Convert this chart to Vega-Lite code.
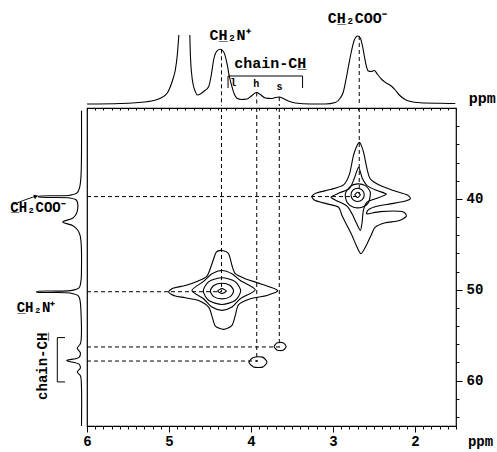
{
  "$schema": "https://vega.github.io/schema/vega-lite/v6.json",
  "background": "white",
  "padding": {"left": 6, "top": 8, "right": 2, "bottom": 2},
  "columns": 2,
  "spacing": {"row": 2, "column": 3},
  "bounds": "flush",
  "resolve": {"scale": {"x": "independent", "y": "independent"}},
  "datasets": {
    "top": [
      {"x": 6.0, "v": 0, "s": 1}, {"x": 5.594, "v": 0.5, "s": 1}, {"x": 5.268, "v": 2.3, "s": 1}, {"x": 5.106, "v": 5.7, "s": 1},
      {"x": 5.021, "v": 11, "s": 1}, {"x": 4.984, "v": 17.3, "s": 1}, {"x": 4.948, "v": 26, "s": 1}, {"x": 4.923, "v": 34, "s": 1},
      {"x": 4.899, "v": 49, "s": 1}, {"x": 4.88, "v": 69, "s": 1},
      {"x": 4.746, "v": 69, "s": 2}, {"x": 4.74, "v": 51, "s": 2}, {"x": 4.72, "v": 27.3, "s": 2}, {"x": 4.704, "v": 19, "s": 2},
      {"x": 4.679, "v": 12.3, "s": 2}, {"x": 4.655, "v": 9, "s": 2}, {"x": 4.618, "v": 10, "s": 2}, {"x": 4.57, "v": 13, "s": 2},
      {"x": 4.517, "v": 17.3, "s": 2}, {"x": 4.484, "v": 29, "s": 2}, {"x": 4.456, "v": 44, "s": 2}, {"x": 4.411, "v": 53.3, "s": 2},
      {"x": 4.374, "v": 54.7, "s": 2}, {"x": 4.334, "v": 52.3, "s": 2}, {"x": 4.293, "v": 40.7, "s": 2}, {"x": 4.265, "v": 28, "s": 2},
      {"x": 4.232, "v": 17.3, "s": 2}, {"x": 4.204, "v": 10, "s": 2}, {"x": 4.171, "v": 5.7, "s": 2}, {"x": 4.118, "v": 4.5, "s": 2},
      {"x": 4.049, "v": 5, "s": 2}, {"x": 3.996, "v": 8, "s": 2}, {"x": 3.935, "v": 11.5, "s": 2}, {"x": 3.887, "v": 9.5, "s": 2},
      {"x": 3.826, "v": 6, "s": 2}, {"x": 3.752, "v": 5.5, "s": 2}, {"x": 3.704, "v": 6.5, "s": 2}, {"x": 3.655, "v": 7, "s": 2},
      {"x": 3.606, "v": 5.5, "s": 2}, {"x": 3.545, "v": 3, "s": 2}, {"x": 3.46, "v": 1, "s": 2}, {"x": 3.277, "v": 0, "s": 2},
      {"x": 3.094, "v": 0, "s": 2}, {"x": 2.972, "v": 1.5, "s": 2}, {"x": 2.911, "v": 6, "s": 2}, {"x": 2.874, "v": 12, "s": 2},
      {"x": 2.838, "v": 26, "s": 2}, {"x": 2.813, "v": 37, "s": 2}, {"x": 2.777, "v": 52, "s": 2}, {"x": 2.74, "v": 64, "s": 2},
      {"x": 2.7, "v": 68, "s": 2}, {"x": 2.667, "v": 66, "s": 2}, {"x": 2.643, "v": 59, "s": 2}, {"x": 2.618, "v": 48, "s": 2},
      {"x": 2.594, "v": 38, "s": 2}, {"x": 2.57, "v": 33, "s": 2}, {"x": 2.533, "v": 32.5, "s": 2}, {"x": 2.496, "v": 33.5, "s": 2},
      {"x": 2.46, "v": 30, "s": 2}, {"x": 2.411, "v": 25, "s": 2}, {"x": 2.35, "v": 21, "s": 2}, {"x": 2.289, "v": 18, "s": 2},
      {"x": 2.24, "v": 14, "s": 2}, {"x": 2.191, "v": 9, "s": 2}, {"x": 2.13, "v": 5, "s": 2}, {"x": 2.057, "v": 2.5, "s": 2},
      {"x": 1.935, "v": 1.2, "s": 2}, {"x": 1.691, "v": 0.7, "s": 2}, {"x": 1.509, "v": 0.5, "s": 2}
    ],
    "topDash": [
      {"x": 4.36, "v": 54.7, "v2": -2}, {"x": 2.68, "v": 68, "v2": -2},
      {"x": 3.93, "v": 11.5, "v2": -2}, {"x": 3.655, "v": 7, "v2": -2}
    ],
    "topBracket": [
      {"x": 4.28, "v": 16, "i": 0}, {"x": 4.28, "v": 28, "i": 1}, {"x": 3.371, "v": 28, "i": 2}, {"x": 3.371, "v": 16, "i": 3}
    ],
    "topText": [
      {"x": 4.255, "v": 69, "t": "CH\u0332\u2082N\u207A"},
      {"x": 2.704, "v": 86, "t": "CH\u0332\u2082COO\u207B"},
      {"x": 3.765, "v": 41, "t": "chain-CH\u0332"},
      {"x": 1.18, "v": 6.5, "t": "ppm"}
    ],
    "topSmall": [
      {"x": 4.215, "v": 21, "t": "l"}, {"x": 3.935, "v": 20, "t": "h"}, {"x": 3.651, "v": 17, "t": "s"}
    ],
    "left": [
      {"v": 0.5, "y": 30.3}, {"v": 0.6, "y": 36.0}, {"v": 1.2, "y": 37.8}, {"v": 2.5, "y": 38.8}, {"v": 5, "y": 39.35},
      {"v": 12, "y": 39.6}, {"v": 43.7, "y": 39.72}, {"v": 43.7, "y": 39.78}, {"v": 12, "y": 39.9}, {"v": 6, "y": 40.1},
      {"v": 4.5, "y": 40.4}, {"v": 4.2, "y": 41.0}, {"v": 5.5, "y": 41.6}, {"v": 9, "y": 42.1}, {"v": 19.3, "y": 42.55},
      {"v": 9, "y": 42.95}, {"v": 4.5, "y": 43.4}, {"v": 2, "y": 44.0}, {"v": 0.8, "y": 45.0}, {"v": 0.5, "y": 47.5},
      {"v": 1, "y": 49.0}, {"v": 3, "y": 49.8}, {"v": 12, "y": 50.1}, {"v": 45.3, "y": 50.2}, {"v": 45.3, "y": 50.26},
      {"v": 12, "y": 50.36}, {"v": 3.5, "y": 50.7}, {"v": 1.8, "y": 51.3}, {"v": 1, "y": 52.5}, {"v": 0.6, "y": 55.0},
      {"v": 1.5, "y": 55.9}, {"v": 4.7, "y": 56.45}, {"v": 1.6, "y": 56.95}, {"v": 3, "y": 57.45}, {"v": 15.3, "y": 57.8},
      {"v": 3, "y": 58.2}, {"v": 1.6, "y": 58.6}, {"v": 4.7, "y": 59.05}, {"v": 1.5, "y": 59.5}, {"v": 0.6, "y": 60.5},
      {"v": 0.5, "y": 65.0}
    ],
    "leftBracket": [
      {"v": 17, "y": 55.27, "i": 0}, {"v": 24.7, "y": 55.27, "i": 1}, {"v": 24.7, "y": 60.15, "i": 2}, {"v": 17, "y": 60.15, "i": 3}
    ],
    "leftArrow": [
      {"v": 68, "y": 40.6, "i": 0}, {"v": 58, "y": 40.15, "i": 1}, {"v": 47, "y": 39.74, "i": 2}
    ],
    "leftHead": [{"v": 46, "y": 39.72}],
    "leftText": [
      {"v": 44, "y": 40.96, "t": "C\u0332H\u2082COO\u207B", "a": 0},
      {"v": 46, "y": 52.05, "t": "C\u0332H\u2082N\u207A", "a": 0},
      {"v": 39, "y": 58.43, "t": "chain-CH\u0332", "a": 270}
    ],
    "contours": [
      {"c": "p1o", "i": 0, "x": 4.354, "y": 45.68}, {"c": "p1o", "i": 1, "x": 4.273, "y": 46.04}, {"c": "p1o", "i": 2, "x": 4.232, "y": 47.33},
      {"c": "p1o", "i": 3, "x": 4.191, "y": 48.24}, {"c": "p1o", "i": 4, "x": 4.07, "y": 48.79}, {"c": "p1o", "i": 5, "x": 3.887, "y": 49.34},
      {"c": "p1o", "i": 6, "x": 3.676, "y": 50.08}, {"c": "p1o", "i": 7, "x": 3.805, "y": 50.63}, {"c": "p1o", "i": 8, "x": 4.009, "y": 50.99},
      {"c": "p1o", "i": 9, "x": 4.151, "y": 51.65}, {"c": "p1o", "i": 10, "x": 4.191, "y": 52.82}, {"c": "p1o", "i": 11, "x": 4.232, "y": 53.92},
      {"c": "p1o", "i": 12, "x": 4.334, "y": 54.36}, {"c": "p1o", "i": 13, "x": 4.435, "y": 54.0}, {"c": "p1o", "i": 14, "x": 4.476, "y": 52.9},
      {"c": "p1o", "i": 15, "x": 4.517, "y": 51.91}, {"c": "p1o", "i": 16, "x": 4.639, "y": 51.18}, {"c": "p1o", "i": 17, "x": 4.801, "y": 50.88},
      {"c": "p1o", "i": 18, "x": 4.923, "y": 50.7}, {"c": "p1o", "i": 19, "x": 5.005, "y": 50.26}, {"c": "p1o", "i": 20, "x": 4.944, "y": 49.82},
      {"c": "p1o", "i": 21, "x": 4.801, "y": 49.53}, {"c": "p1o", "i": 22, "x": 4.659, "y": 49.09}, {"c": "p1o", "i": 23, "x": 4.537, "y": 48.51},
      {"c": "p1o", "i": 24, "x": 4.476, "y": 47.14}, {"c": "p1o", "i": 25, "x": 4.423, "y": 45.87},
      {"c": "p1d", "i": 0, "x": 4.354, "y": 47.88}, {"c": "p1d", "i": 1, "x": 4.232, "y": 48.24}, {"c": "p1d", "i": 2, "x": 4.13, "y": 48.98},
      {"c": "p1d", "i": 3, "x": 3.948, "y": 50.0}, {"c": "p1d", "i": 4, "x": 4.13, "y": 50.99}, {"c": "p1d", "i": 5, "x": 4.232, "y": 51.91},
      {"c": "p1d", "i": 6, "x": 4.354, "y": 52.27}, {"c": "p1d", "i": 7, "x": 4.476, "y": 51.91}, {"c": "p1d", "i": 8, "x": 4.578, "y": 50.99},
      {"c": "p1d", "i": 9, "x": 4.72, "y": 50.08}, {"c": "p1d", "i": 10, "x": 4.578, "y": 49.09}, {"c": "p1d", "i": 11, "x": 4.476, "y": 48.24},
      {"c": "p1c", "i": 0, "x": 4.582, "y": 50.15}, {"c": "p1c", "i": 1, "x": 4.515, "y": 49.11}, {"c": "p1c", "i": 2, "x": 4.354, "y": 48.68},
      {"c": "p1c", "i": 3, "x": 4.193, "y": 49.11}, {"c": "p1c", "i": 4, "x": 4.126, "y": 50.15}, {"c": "p1c", "i": 5, "x": 4.193, "y": 51.19},
      {"c": "p1c", "i": 6, "x": 4.354, "y": 51.62}, {"c": "p1c", "i": 7, "x": 4.515, "y": 51.19},
      {"c": "p1b", "i": 0, "x": 4.496, "y": 50.15}, {"c": "p1b", "i": 1, "x": 4.454, "y": 49.54}, {"c": "p1b", "i": 2, "x": 4.354, "y": 49.29},
      {"c": "p1b", "i": 3, "x": 4.254, "y": 49.54}, {"c": "p1b", "i": 4, "x": 4.212, "y": 50.15}, {"c": "p1b", "i": 5, "x": 4.254, "y": 50.76},
      {"c": "p1b", "i": 6, "x": 4.354, "y": 51.01}, {"c": "p1b", "i": 7, "x": 4.454, "y": 50.76},
      {"c": "p1a", "i": 0, "x": 4.407, "y": 50.15}, {"c": "p1a", "i": 1, "x": 4.354, "y": 49.88}, {"c": "p1a", "i": 2, "x": 4.301, "y": 50.15},
      {"c": "p1a", "i": 3, "x": 4.354, "y": 50.42},
      {"c": "p2o", "i": 0, "x": 2.676, "y": 33.78}, {"c": "p2o", "i": 1, "x": 2.627, "y": 34.88}, {"c": "p2o", "i": 2, "x": 2.585, "y": 36.7},
      {"c": "p2o", "i": 3, "x": 2.545, "y": 37.8}, {"c": "p2o", "i": 4, "x": 2.423, "y": 38.54}, {"c": "p2o", "i": 5, "x": 2.261, "y": 39.09},
      {"c": "p2o", "i": 6, "x": 2.098, "y": 39.56}, {"c": "p2o", "i": 7, "x": 2.057, "y": 40.0}, {"c": "p2o", "i": 8, "x": 2.139, "y": 40.3},
      {"c": "p2o", "i": 9, "x": 2.301, "y": 40.55}, {"c": "p2o", "i": 10, "x": 2.463, "y": 40.81}, {"c": "p2o", "i": 11, "x": 2.566, "y": 41.18},
      {"c": "p2o", "i": 12, "x": 2.585, "y": 41.65}, {"c": "p2o", "i": 13, "x": 2.423, "y": 41.4}, {"c": "p2o", "i": 14, "x": 2.159, "y": 41.4},
      {"c": "p2o", "i": 15, "x": 2.106, "y": 41.91}, {"c": "p2o", "i": 16, "x": 2.2, "y": 42.42}, {"c": "p2o", "i": 17, "x": 2.362, "y": 42.64},
      {"c": "p2o", "i": 18, "x": 2.484, "y": 43.12}, {"c": "p2o", "i": 19, "x": 2.537, "y": 44.03}, {"c": "p2o", "i": 20, "x": 2.594, "y": 45.13},
      {"c": "p2o", "i": 21, "x": 2.659, "y": 46.04}, {"c": "p2o", "i": 22, "x": 2.716, "y": 45.13}, {"c": "p2o", "i": 23, "x": 2.768, "y": 44.03},
      {"c": "p2o", "i": 24, "x": 2.829, "y": 42.93}, {"c": "p2o", "i": 25, "x": 2.89, "y": 41.84}, {"c": "p2o", "i": 26, "x": 2.932, "y": 40.92},
      {"c": "p2o", "i": 27, "x": 3.073, "y": 40.55}, {"c": "p2o", "i": 28, "x": 3.216, "y": 40.19}, {"c": "p2o", "i": 29, "x": 3.256, "y": 39.75},
      {"c": "p2o", "i": 30, "x": 3.195, "y": 39.34}, {"c": "p2o", "i": 31, "x": 3.033, "y": 38.98}, {"c": "p2o", "i": 32, "x": 2.871, "y": 38.46},
      {"c": "p2o", "i": 33, "x": 2.798, "y": 37.25}, {"c": "p2o", "i": 34, "x": 2.756, "y": 35.43}, {"c": "p2o", "i": 35, "x": 2.716, "y": 34.33},
      {"c": "p2d", "i": 0, "x": 2.688, "y": 36.53}, {"c": "p2d", "i": 1, "x": 2.643, "y": 37.74}, {"c": "p2d", "i": 2, "x": 2.585, "y": 38.54},
      {"c": "p2d", "i": 3, "x": 2.463, "y": 39.09}, {"c": "p2d", "i": 4, "x": 2.35, "y": 39.49}, {"c": "p2d", "i": 5, "x": 2.484, "y": 40.0},
      {"c": "p2d", "i": 6, "x": 2.585, "y": 40.37}, {"c": "p2d", "i": 7, "x": 2.63, "y": 41.29}, {"c": "p2d", "i": 8, "x": 2.645, "y": 42.57},
      {"c": "p2d", "i": 9, "x": 2.667, "y": 43.48}, {"c": "p2d", "i": 10, "x": 2.716, "y": 42.64}, {"c": "p2d", "i": 11, "x": 2.768, "y": 41.65},
      {"c": "p2d", "i": 12, "x": 2.829, "y": 40.81}, {"c": "p2d", "i": 13, "x": 2.932, "y": 40.3}, {"c": "p2d", "i": 14, "x": 3.024, "y": 39.82},
      {"c": "p2d", "i": 15, "x": 2.92, "y": 39.34}, {"c": "p2d", "i": 16, "x": 2.798, "y": 38.84}, {"c": "p2d", "i": 17, "x": 2.74, "y": 37.74},
      {"c": "p2c", "i": 0, "x": 2.7, "y": 38.35}, {"c": "p2c", "i": 1, "x": 2.606, "y": 38.54}, {"c": "p2c", "i": 2, "x": 2.545, "y": 39.27},
      {"c": "p2c", "i": 3, "x": 2.566, "y": 40.37}, {"c": "p2c", "i": 4, "x": 2.646, "y": 40.92}, {"c": "p2c", "i": 5, "x": 2.749, "y": 40.92},
      {"c": "p2c", "i": 6, "x": 2.829, "y": 40.37}, {"c": "p2c", "i": 7, "x": 2.85, "y": 39.45}, {"c": "p2c", "i": 8, "x": 2.789, "y": 38.62},
      {"c": "p2b", "i": 0, "x": 2.781, "y": 39.56}, {"c": "p2b", "i": 1, "x": 2.757, "y": 39.04}, {"c": "p2b", "i": 2, "x": 2.7, "y": 38.83},
      {"c": "p2b", "i": 3, "x": 2.643, "y": 39.04}, {"c": "p2b", "i": 4, "x": 2.619, "y": 39.56}, {"c": "p2b", "i": 5, "x": 2.643, "y": 40.08},
      {"c": "p2b", "i": 6, "x": 2.7, "y": 40.29}, {"c": "p2b", "i": 7, "x": 2.757, "y": 40.08},
      {"c": "p2a", "i": 0, "x": 2.733, "y": 39.56}, {"c": "p2a", "i": 1, "x": 2.7, "y": 39.27}, {"c": "p2a", "i": 2, "x": 2.667, "y": 39.56},
      {"c": "p2a", "i": 3, "x": 2.7, "y": 39.85},
      {"c": "ps", "i": 0, "x": 3.718, "y": 56.25}, {"c": "ps", "i": 1, "x": 3.68, "y": 55.85}, {"c": "ps", "i": 2, "x": 3.61, "y": 55.83},
      {"c": "ps", "i": 3, "x": 3.572, "y": 56.25}, {"c": "ps", "i": 4, "x": 3.61, "y": 56.67}, {"c": "ps", "i": 5, "x": 3.68, "y": 56.65},
      {"c": "ph", "i": 0, "x": 4.025, "y": 57.97}, {"c": "ph", "i": 1, "x": 3.97, "y": 57.45}, {"c": "ph", "i": 2, "x": 3.86, "y": 57.42},
      {"c": "ph", "i": 3, "x": 3.805, "y": 57.97}, {"c": "ph", "i": 4, "x": 3.86, "y": 58.52}, {"c": "ph", "i": 5, "x": 3.97, "y": 58.5}
    ],
    "dashes": [
      {"x": 4.36, "x2": 4.36, "y": 30, "y2": 50.15},
      {"x": 2.68, "x2": 2.68, "y": 30, "y2": 39.5},
      {"x": 3.93, "x2": 3.93, "y": 30, "y2": 57.95},
      {"x": 3.655, "x2": 3.655, "y": 30, "y2": 56.25},
      {"x": 6, "x2": 2.7, "y": 39.75, "y2": 39.75},
      {"x": 6, "x2": 4.354, "y": 50.22, "y2": 50.22},
      {"x": 6, "x2": 3.645, "y": 56.3, "y2": 56.3},
      {"x": 6, "x2": 3.915, "y": 57.85, "y2": 57.85}
    ]
  },
  "concat": [
    {
      "width": 78, "height": 98,
      "data": {"values": [{"a": 1}]},
      "mark": {"type": "text"},
      "encoding": {"text": {"value": ""}}
    },
    {
      "width": 369, "height": 98,
      "layer": [
        {
          "data": {"name": "top"},
          "mark": {"type": "line", "interpolate": "monotone", "color": "black", "strokeWidth": 1.1},
          "encoding": {
            "x": {"field": "x", "type": "quantitative", "scale": {"domain": [6, 1.5], "nice": false, "zero": false}, "axis": null},
            "y": {"field": "v", "type": "quantitative", "scale": {"domain": [-2, 96], "nice": false, "zero": false}, "axis": null},
            "detail": {"field": "s"}
          }
        },
        {
          "data": {"name": "topDash"},
          "mark": {"type": "rule", "color": "black", "strokeWidth": 1, "strokeDash": [4, 3]},
          "encoding": {
            "x": {"field": "x", "type": "quantitative"},
            "y": {"field": "v", "type": "quantitative"},
            "y2": {"field": "v2"}
          }
        },
        {
          "data": {"name": "topBracket"},
          "mark": {"type": "line", "color": "black", "strokeWidth": 1},
          "encoding": {
            "x": {"field": "x", "type": "quantitative"},
            "y": {"field": "v", "type": "quantitative"},
            "order": {"field": "i"}
          }
        },
        {
          "data": {"name": "topText"},
          "mark": {"type": "text", "font": "Liberation Mono", "fontWeight": "bold", "fontSize": 15, "color": "black", "align": "center", "baseline": "middle"},
          "encoding": {
            "x": {"field": "x", "type": "quantitative"},
            "y": {"field": "v", "type": "quantitative"},
            "text": {"field": "t"}
          }
        },
        {
          "data": {"name": "topSmall"},
          "mark": {"type": "text", "font": "Liberation Mono", "fontWeight": "bold", "fontSize": 10, "color": "black", "align": "center", "baseline": "middle"},
          "encoding": {
            "x": {"field": "x", "type": "quantitative"},
            "y": {"field": "v", "type": "quantitative"},
            "text": {"field": "t"}
          }
        }
      ]
    },
    {
      "width": 78, "height": 318,
      "layer": [
        {
          "data": {"name": "left"},
          "mark": {"type": "line", "interpolate": "catmull-rom", "color": "black", "strokeWidth": 1.1},
          "encoding": {
            "x": {"field": "v", "type": "quantitative", "scale": {"domain": [76, -2], "nice": false, "zero": false}, "axis": null},
            "y": {"field": "y", "type": "quantitative", "scale": {"domain": [30, 65], "reverse": true, "nice": false, "zero": false}, "axis": null},
            "order": {"field": "y"}
          }
        },
        {
          "data": {"name": "leftBracket"},
          "mark": {"type": "line", "color": "black", "strokeWidth": 1},
          "encoding": {
            "x": {"field": "v", "type": "quantitative"},
            "y": {"field": "y", "type": "quantitative"},
            "order": {"field": "i"}
          }
        },
        {
          "data": {"name": "leftArrow"},
          "mark": {"type": "line", "interpolate": "cardinal", "color": "black", "strokeWidth": 1},
          "encoding": {
            "x": {"field": "v", "type": "quantitative"},
            "y": {"field": "y", "type": "quantitative"},
            "order": {"field": "i"}
          }
        },
        {
          "data": {"name": "leftHead"},
          "mark": {"type": "point", "shape": "triangle-right", "filled": true, "color": "black", "size": 22, "angle": -20, "opacity": 1},
          "encoding": {
            "x": {"field": "v", "type": "quantitative"},
            "y": {"field": "y", "type": "quantitative"}
          }
        },
        {
          "data": {"name": "leftText"},
          "mark": {"type": "text", "font": "Liberation Mono", "fontWeight": "bold", "fontSize": 14, "color": "black", "align": "center", "baseline": "middle"},
          "encoding": {
            "x": {"field": "v", "type": "quantitative"},
            "y": {"field": "y", "type": "quantitative"},
            "text": {"field": "t"},
            "angle": {"field": "a", "type": "quantitative", "scale": null}
          }
        }
      ]
    },
    {
      "width": 369, "height": 318,
      "view": {"stroke": "black", "strokeWidth": 1.2},
      "resolve": {"axis": {"x": "independent"}},
      "layer": [
        {
          "data": {"name": "contours"},
          "mark": {"type": "line", "interpolate": "cardinal-closed", "tension": 0.25, "color": "black", "strokeWidth": 1.1},
          "encoding": {
            "x": {
              "field": "x", "type": "quantitative", "title": "ppm",
              "scale": {"domain": [6, 1.5], "nice": false, "zero": false},
              "axis": {
                "orient": "bottom",
                "values": [6, 5.9, 5.8, 5.7, 5.6, 5.5, 5.4, 5.3, 5.2, 5.1, 5, 4.9, 4.8, 4.7, 4.6, 4.5, 4.4, 4.3, 4.2, 4.1, 4, 3.9, 3.8, 3.7, 3.6, 3.5, 3.4, 3.3, 3.2, 3.1, 3, 2.9, 2.8, 2.7, 2.6, 2.5, 2.4, 2.3, 2.2, 2.1, 2, 1.9, 1.8, 1.7, 1.6, 1.5],
                "tickCount": 200,
                "labelExpr": "abs(datum.value - round(datum.value)) < 0.01 ? '' + round(datum.value) : ''",
                "tickSize": {"condition": {"test": "abs(datum.value - round(datum.value)) < 0.01", "value": 6}, "value": 3},
                "tickColor": "black", "tickWidth": 1,
                "domain": false, "grid": false,
                "labelFont": "Liberation Mono", "labelFontWeight": "bold", "labelFontSize": 14, "labelColor": "black",
                "labelPadding": 2, "labelFlush": false, "labelOverlap": false,
                "titleFont": "Liberation Mono", "titleFontWeight": "bold", "titleFontSize": 14, "titleColor": "black",
                "titleX": 393, "titleY": 15, "titleAlign": "center", "titleBaseline": "middle", "titleAngle": 0
              }
            },
            "y": {
              "field": "y", "type": "quantitative", "title": null,
              "scale": {"domain": [30, 65], "reverse": true, "nice": false, "zero": false},
              "axis": {
                "orient": "right",
                "values": [32, 34, 36, 38, 40, 42, 44, 46, 48, 50, 52, 54, 56, 58, 60, 62, 64],
                "tickCount": 200,
                "labelExpr": "datum.value % 10 === 0 ? '' + datum.value : ''",
                "tickSize": {"condition": {"test": "datum.value % 10 === 0", "value": 6}, "value": 3},
                "tickColor": "black", "tickWidth": 1,
                "domain": false, "grid": false,
                "labelFont": "Liberation Mono", "labelFontWeight": "bold", "labelFontSize": 14, "labelColor": "black",
                "labelPadding": 4, "labelFlush": false, "labelOverlap": false
              }
            },
            "detail": {"field": "c"},
            "order": {"field": "i"}
          }
        },
        {
          "data": {"name": "dashes"},
          "mark": {"type": "rule", "color": "black", "strokeWidth": 1, "strokeDash": [4, 3]},
          "encoding": {
            "x": {
              "field": "x", "type": "quantitative", "title": null,
              "scale": {"domain": [6, 1.5], "nice": false, "zero": false},
              "axis": {
                "orient": "top",
                "values": [6, 5.9, 5.8, 5.7, 5.6, 5.5, 5.4, 5.3, 5.2, 5.1, 5, 4.9, 4.8, 4.7, 4.6, 4.5, 4.4, 4.3, 4.2, 4.1, 4, 3.9, 3.8, 3.7, 3.6, 3.5, 3.4, 3.3, 3.2, 3.1, 3, 2.9, 2.8, 2.7, 2.6, 2.5, 2.4, 2.3, 2.2, 2.1, 2, 1.9, 1.8, 1.7, 1.6, 1.5],
                "tickCount": 200,
                "labels": false, "domain": false, "grid": false,
                "tickSize": -2, "tickColor": "black", "tickWidth": 1, "title": null
              }
            },
            "x2": {"field": "x2"},
            "y": {"field": "y", "type": "quantitative", "title": null, "scale": {"domain": [30, 65], "reverse": true, "nice": false, "zero": false}},
            "y2": {"field": "y2"}
          }
        }
      ]
    }
  ],
  "config": {
    "view": {"stroke": null}
  }
}
